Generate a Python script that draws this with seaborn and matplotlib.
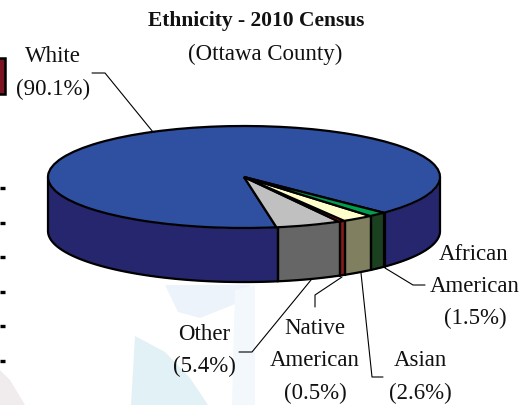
import numpy as np
import matplotlib.pyplot as plt
import seaborn as sns
from matplotlib.patches import Polygon, Rectangle

categories = ['White', 'Other', 'Native American', 'Asian', 'African American']
values = [90.1, 5.4, 0.5, 2.6, 1.5]
top_colors = ['#2f4fa0', '#c0c0c0', '#ff0000', '#ffffcc', '#00a050']
side_colors = ['#26266e', '#666666', '#8b1a1a', '#808060', '#1b4020']
start_deg = -44.5
depth = 1.06

sns.set_theme(style='white')
plt.rcParams['font.family'] = ['Liberation Serif', 'DejaVu Serif']

W, H = 526, 405
fig = plt.figure(figsize=(W / 100, H / 100), dpi=100)

# faint watermark behind the chart, and the cut off bits on the left edge
bg = fig.add_axes([0, 0, 1, 1], zorder=0)
bg.set_xlim(0, W)
bg.set_ylim(H, 0)
bg.axis('off')
bg.add_patch(Polygon([(135, 336), (165, 352), (190, 378), (208, 405), (131, 405)], color='#e2f1f5', lw=0))
bg.add_patch(Polygon([(165, 285), (250, 285), (245, 300), (200, 318), (178, 312)], color='#edf3fa', lw=0))
bg.add_patch(Polygon([(235, 290), (255, 285), (255, 405), (232, 405)], color='#f3f8fc', lw=0))
bg.add_patch(Polygon([(0, 370), (10, 380), (25, 405), (0, 405)], color='#f0ecee', lw=0))
bg.add_patch(Rectangle((-2, 58), 6.5, 36, fc='#7a1420', ec='black', lw=1.8))
for y in [188, 223, 257, 292, 326, 361]:
    bg.plot([0, 5], [y, y], color='black', lw=2.4, solid_capstyle='butt')

# pie axes: the wedges are squashed into an ellipse by the non equal aspect
a, b = 196, 51
pad = 1.1
extra = (depth + 0.1) * b
ax = fig.add_axes([(244 - a * pad) / W, 1 - (177 + b * pad + extra) / H,
                   2 * a * pad / W, (2 * b * pad + extra) / H], zorder=1)
ax.patch.set_alpha(0)
ax.pie(values, colors=top_colors, startangle=start_deg, counterclock=True, radius=1,
       wedgeprops={'edgecolor': 'black', 'linewidth': 1.6, 'zorder': 3})
ax.set_aspect('auto')
ax.set_xlim(-pad, pad)
ax.set_ylim(-pad - depth - 0.1, pad)

# side wall, drawn wedge by wedge for the front half only
edges = start_deg + np.cumsum([0] + values) * 3.6
for i in range(len(values)):
    for lo, hi in [(edges[i], edges[i + 1]), (edges[i] - 360, edges[i + 1] - 360)]:
        lo2, hi2 = max(lo, -180), min(hi, 0)
        if hi2 <= lo2:
            continue
        t = np.radians(np.linspace(lo2, hi2, 80))
        x, y = np.cos(t), np.sin(t)
        ax.fill_between(x, y, y - depth, color=side_colors[i], lw=0, zorder=1)
        ax.plot(x, y - depth, color='black', lw=1.6, zorder=2)
        for tt in (t[0], t[-1]):
            ax.plot([np.cos(tt)] * 2, [np.sin(tt), np.sin(tt) - depth], color='black', lw=1.6, zorder=2)

# text and leader lines in pixel coordinates
ov = fig.add_axes([0, 0, 1, 1], zorder=2)
ov.set_xlim(0, W)
ov.set_ylim(H, 0)
ov.axis('off')
ov.patch.set_alpha(0)

labels = [('Ethnicity - 2010 Census', 256, 21, True),
          ('(Ottawa County)', 265, 54, False),
          ('White', 53, 56, False), ('(90.1%)', 53, 89, False),
          ('African', 474, 254, False), ('American', 475, 286, False), ('(1.5%)', 475, 318, False),
          ('Native', 315, 329, False), ('American', 315, 361, False), ('(0.5%)', 315, 393, False),
          ('Asian', 420, 361, False), ('(2.6%)', 420, 393, False),
          ('Other', 204, 335, False), ('(5.4%)', 204, 366, False)]
for s, x, y, bold in labels:
    ov.text(x, y, s, ha='center', va='center', fontsize=15.5 if bold else 16.5,
            fontweight='bold' if bold else 'normal', color='#111111')

leaders = [[(92, 73), (105, 73), (153, 132)],
           [(385, 268), (413, 285), (425, 285)],
           [(361, 273), (372, 377), (383, 377)],
           [(342, 277), (315, 295), (315, 307)],
           [(311, 280), (252, 352), (239, 352)]]
for pts in leaders:
    px, py = zip(*pts)
    ov.plot(px, py, color='black', lw=0.8)

fig.savefig('out.png', dpi=100)
